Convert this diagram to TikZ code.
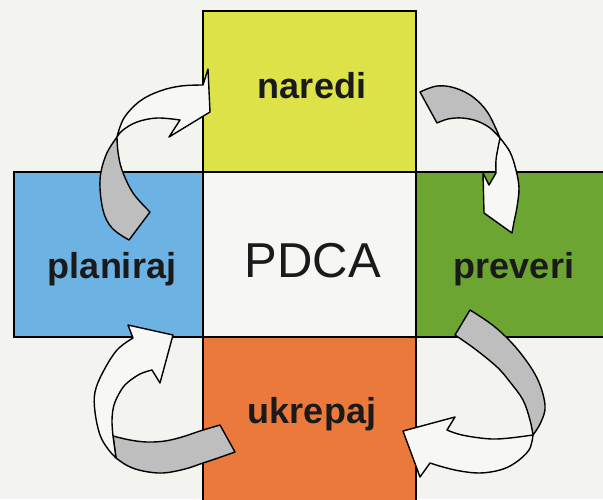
\documentclass[tikz,border=0pt]{standalone}
\usepackage{fontspec}
\setmainfont{Liberation Sans}
\definecolor{bgc}{RGB}{243,243,239}
\definecolor{centerc}{RGB}{246,246,244}
\definecolor{yellowc}{RGB}{220,226,72}
\definecolor{bluec}{RGB}{108,178,226}
\definecolor{greenc}{RGB}{108,165,50}
\definecolor{orangec}{RGB}{235,121,60}
\definecolor{arrowg}{RGB}{190,190,190}
\definecolor{arroww}{RGB}{247,247,245}
\definecolor{txtc}{RGB}{26,26,26}
\begin{document}
\begin{tikzpicture}[x=1pt,y=-1pt,
  box/.style={draw=black, line width=2.2pt, inner sep=0pt, outer sep=0pt},
  lbl/.style={font=\fontsize{36}{40}\selectfont\bfseries, text=txtc, anchor=base, inner sep=0pt},
  big/.style={font=\fontsize{49}{52}\selectfont, text=txtc, anchor=base, inner sep=0pt},
  ribw/.style={draw=black, line width=1.4pt, fill=arroww, line join=round},
  ribg/.style={draw=black, line width=1.4pt, fill=arrowg, line join=round},
  sm/.style={smooth, tension=0.6}]
\fill[bgc] (0,0) rectangle (603,499);
\clip (0,0) rectangle (603,499);
% boxes
\node[box, fill=yellowc, minimum width=213pt, minimum height=161pt] (bD) at (309.5,91.5) {};
\node[box, fill=bluec, minimum width=189pt, minimum height=165pt] (bP) at (108.5,254.5) {};
\node[box, fill=greenc, minimum width=213pt, minimum height=165pt] (bC) at (522.5,254.5) {};
\node[box, fill=orangec, minimum width=213pt, minimum height=183pt] (bA) at (309.5,428.5) {};
\node[box, fill=centerc, minimum width=213pt, minimum height=165pt] (bM) at (309.5,254.5) {};
% labels
\node[lbl] (tD) at (312,98) {naredi};
\node[lbl] (tP) at (112,278) {planiraj};
\node[lbl] (tC) at (514,278) {preveri};
\node[lbl] (tA) at (312,423) {ukrepaj};
\node[big] (tM) at (313,277) {PDCA};
% arrow 1: planiraj -> naredi
\draw[ribg] plot[sm] coordinates {(117,137) (106,155) (100,180) (103,210) (112,228) (129,240)}
  -- (150,212) -- plot[sm] coordinates {(150,212) (133,193) (122,170) (118,152) (117,137)} -- cycle;
\draw[ribw] plot[sm] coordinates {(117,137) (124,118) (140,101) (160,91) (181,86) (203,85)}
  -- (208,69) -- (210,112) -- (169,137) -- (180,120)
  -- plot[sm] coordinates {(180,120) (157,118) (137,122) (123,130) (117,137)} -- cycle;
% arrow 2: naredi -> preveri
\draw[ribg] plot[sm] coordinates {(420,92) (437,86) (455,88) (473,97) (488,113) (500,138)}
  -- plot[sm] coordinates {(500,138) (490,128) (477,121) (462,118) (448,119) (437,123)} -- cycle;
\draw[ribw] plot[sm] coordinates {(500,138) (510,152) (516,170) (519,188) (517,207) (514,222) (512,233)}
  -- (484,213) -- (483,173) -- (489,185) -- (496,173)
  -- plot[sm] coordinates {(496,173) (496,160) (498,148) (500,138)} -- cycle;
% arrow 3: preveri -> ukrepaj
\draw[ribg] plot[sm] coordinates {(470,310) (495,327) (518,350) (537,378) (545,405) (541,422) (533,435)}
  -- plot[sm] coordinates {(533,435) (530,420) (523,400) (510,382) (497,367) (475,349) (455,335)} -- cycle;
\draw[ribw] plot[sm] coordinates {(533,435) (529,450) (515,463) (500,470) (480,473) (460,471) (443,467) (430,463)}
  -- (420,477) -- (403,431) -- (455,417) -- (447,430)
  -- plot[sm] coordinates {(447,430) (458,434) (473,437) (492,439) (510,438) (533,435)} -- cycle;
% arrow 4: ukrepaj -> planiraj
\draw[ribg] plot[sm] coordinates {(113,436) (130,440) (147,442) (165,441) (182,437) (200,431) (220,425)}
  -- (235,452) -- plot[sm] coordinates {(235,452) (218,458) (203,463) (185,469) (163,473) (143,471) (128,466) (116,458)} -- cycle;
\draw[ribw] plot[sm] coordinates {(113,436) (112,420) (114,405) (120,392) (127,383) (140,374) (152,370)}
  -- (160,383) -- (173,335) -- (128,325) -- (133,338)
  -- plot[sm] coordinates {(133,338) (117,350) (103,372) (95,392) (95,412) (100,435) (108,449) (116,458)} -- cycle;
\end{tikzpicture}
\end{document}
